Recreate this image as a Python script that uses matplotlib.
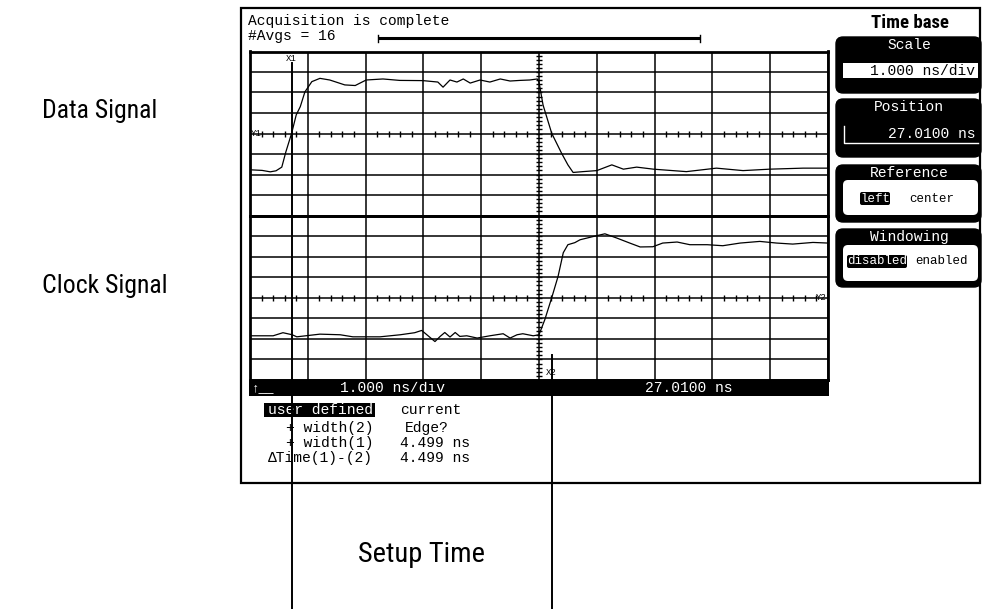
import numpy as np
import matplotlib
matplotlib.use("Agg")
import matplotlib.pyplot as plt
from matplotlib.patches import Rectangle, FancyBboxPatch
from matplotlib.transforms import blended_transform_factory

# time base: left reference at 27.01 ns, 1 ns/div, 10 x 8 divisions per channel
t_left = 27.01
ns_per_div = 1.0
n_div_x = 10
n_div_y = 8

# data signal (channel 1), time in ns, level in divisions from Y1 axis
data_t = [27.01, 27.22, 27.36, 27.46, 27.56, 27.63, 27.73, 27.81, 27.88, 27.96,
          28.08, 28.22, 28.39, 28.65, 28.83, 29.02, 29.31, 29.60, 30.00, 30.26,
          30.35, 30.47, 30.59, 30.70, 30.82, 30.99, 31.16, 31.34, 31.51, 31.68,
          31.85, 31.98, 32.01, 32.08, 32.23, 32.40, 32.51, 32.60, 32.77, 33.01,
          33.27, 33.47, 33.70, 33.99, 34.56, 35.08, 35.54, 36.00, 36.58, 37.01]
data_v = [-1.77, -1.80, -1.87, -1.82, -1.64, -0.90, 0.01, 0.91, 1.31, 2.03,
          2.53, 2.69, 2.61, 2.37, 2.34, 2.61, 2.66, 2.59, 2.58, 2.51,
          2.26, 2.61, 2.51, 2.66, 2.46, 2.61, 2.51, 2.66, 2.56, 2.59,
          2.61, 2.66, 2.51, 1.39, 0.01, -0.96, -1.53, -1.90, -1.86, -1.81,
          -1.53, -1.74, -1.64, -1.74, -1.86, -1.69, -1.81, -1.74, -1.69, -1.69]

# clock signal (channel 2)
clock_t = [27.01, 27.41, 27.58, 27.74, 27.82, 28.22, 28.57, 28.79, 29.26, 29.61,
           29.86, 29.98, 30.07, 30.21, 30.30, 30.38, 30.47, 30.56, 30.64, 30.76,
           30.94, 31.16, 31.39, 31.51, 31.63, 31.73, 31.91, 32.01, 32.11, 32.23,
           32.34, 32.43, 32.51, 32.63, 32.72, 33.01, 33.15, 33.35, 33.58, 33.76,
           33.98, 34.15, 34.40, 34.62, 34.92, 35.19, 35.49, 35.83, 36.12, 36.40,
           36.75, 37.01]
clock_v = [-1.85, -1.85, -1.70, -1.80, -1.90, -1.77, -1.80, -1.90, -1.90, -1.80,
           -1.70, -1.59, -1.80, -2.13, -1.88, -1.69, -1.91, -1.69, -1.88, -1.85,
           -1.96, -1.85, -1.75, -1.96, -1.80, -1.75, -1.85, -1.80, -1.07, 0.00,
           1.04, 2.19, 2.58, 2.68, 2.82, 3.02, 3.11, 2.91, 2.66, 2.47,
           2.48, 2.66, 2.71, 2.58, 2.58, 2.53, 2.66, 2.74, 2.66, 2.61,
           2.69, 2.66]

x1_time = 27.73
setup_time = 4.499
x2_time = x1_time + setup_time

header_lines = ["Acquisition is complete", "#Avgs = 16"]
meas_names = ["+ width(2)", "+ width(1)", "\u0394Time(1)-(2)"]
meas_values = ["Edge?", "4.499 ns", "4.499 ns"]

W, H = 987, 609
MONO = ["Liberation Mono", "DejaVu Sans Mono"]
NARROW = ["Roboto Condensed", "DejaVu Sans"]

fig = plt.figure(figsize=(W / 100, H / 100), dpi=100)
bg = fig.add_axes([0, 0, 1, 1])
bg.set_xlim(0, W)
bg.set_ylim(H, 0)
bg.axis("off")


def px_axes(x0, y0, x1, y1):
    return fig.add_axes([x0 / W, 1 - y1 / H, (x1 - x0) / W, (y1 - y0) / H])


def mono(x, y, s, color="k", size=10.5, ha="left"):
    bg.text(x, y, s, color=color, fontsize=size, family=MONO, ha=ha, va="center")


# outer screen frame
bg.add_patch(Rectangle((241, 8), 739, 475, fill=False, lw=1.6, ec="k"))

# header + progress bar
mono(248, 21, header_lines[0])
mono(248, 36, header_lines[1])
bg.plot([378, 700], [38, 38], color="k", lw=2.2, solid_capstyle="butt")
bg.plot([378, 378], [34.5, 41.5], color="k", lw=1)
bg.plot([700, 700], [34.5, 41.5], color="k", lw=1)

# side labels
bg.text(42, 111, "Data Signal", fontsize=18.5, family=NARROW, va="center")
bg.text(42, 286, "Clock Signal", fontsize=18.5, family=NARROW, va="center")
bg.text(421, 555, "Setup Time", fontsize=20.5, family=NARROW, va="center", ha="center")

# right hand softkey panels
bg.text(910, 23, "Time base", fontsize=13.5, fontweight="bold", family=NARROW,
        ha="center", va="center")
panels = [("Scale", 37, 93), ("Position", 99, 157), ("Reference", 165, 222),
          ("Windowing", 229, 287)]
for title, y0, y1 in panels:
    bg.add_patch(FancyBboxPatch((836, y0), 145, y1 - y0,
                                boxstyle="round,pad=0,rounding_size=7",
                                fc="k", ec="k"))
    mono(909, y0 + 8, title, color="w", ha="center")

bg.add_patch(Rectangle((843, 63), 135, 15, fc="w", ec="none"))
mono(975, 71, "1.000 ns/div", ha="right")
bg.plot([843.5, 843.5, 978], [126, 143, 143], color="w", lw=1)
mono(975, 134, "27.0100 ns", color="w", ha="right")

bg.add_patch(FancyBboxPatch((843, 180), 135, 35, boxstyle="round,pad=0,rounding_size=5",
                            fc="w", ec="none"))
bg.add_patch(FancyBboxPatch((860, 192), 30, 13, boxstyle="round,pad=0,rounding_size=2",
                            fc="k", ec="none"))
mono(875, 198.5, "left", color="w", size=9, ha="center")
mono(932, 198.5, "center", size=9, ha="center")

bg.add_patch(FancyBboxPatch((843, 245), 135, 36, boxstyle="round,pad=0,rounding_size=5",
                            fc="w", ec="none"))
bg.add_patch(FancyBboxPatch((847, 255), 60, 13, boxstyle="round,pad=0,rounding_size=2",
                            fc="k", ec="none"))
mono(877, 261.5, "disabled", color="w", size=9, ha="center")
mono(942, 261.5, "enabled", size=9, ha="center")

# status bar under the graticule
bg.add_patch(Rectangle((249, 380), 580, 16, fc="k", ec="none"))
mono(252, 388, "\u2191__", color="w", size=9)
mono(340, 388, "1.000 ns/div", color="w")
mono(645, 388, "27.0100 ns", color="w")

# measurement readout
bg.add_patch(Rectangle((264, 403), 111, 14, fc="k", ec="none"))
mono(373, 410, "user defined", color="w", ha="right")
mono(400, 410, "current")
for i, (name, val) in enumerate(zip(meas_names, meas_values)):
    y = 428 + 15 * i
    mono(373, y, name, ha="right")
    mono(405 if val == "Edge?" else 400, y, val)

# graticule: two channels
ax_top = px_axes(250, 51.5, 828, 215.5)
ax_low = px_axes(250, 215.5, 828, 380)
t_right = t_left + n_div_x * ns_per_div
t_mid = t_left + n_div_x * ns_per_div / 2
major_t = t_left + np.arange(n_div_x + 1) * ns_per_div
minor_t = t_left + np.arange(0, n_div_x * 5 + 1) * ns_per_div / 5
minor_t = minor_t[np.arange(len(minor_t)) % 5 != 0]
minor_v = np.arange(-n_div_y * 5 // 2, n_div_y * 5 // 2 + 1) / 5

for ax, t, v in [(ax_top, data_t, data_v), (ax_low, clock_t, clock_v)]:
    ax.set_xlim(t_left, t_right)
    ax.set_ylim(-n_div_y / 2, n_div_y / 2)
    ax.set_xticks(major_t)
    ax.set_yticks(np.arange(-n_div_y // 2, n_div_y // 2 + 1))
    ax.grid(True, color="k", lw=1.1)
    ax.tick_params(length=0, labelbottom=False, labelleft=False)
    for sp in ax.spines.values():
        sp.set_linewidth(2)
    ax.patch.set_alpha(0)
    ax.plot(minor_t, np.zeros_like(minor_t), ls="none", marker="|", ms=5, mew=1, color="k")
    ax.plot(np.full_like(minor_v, t_mid), minor_v, ls="none", marker="_", ms=5, mew=1,
            color="k")
    ax.plot(t, v, color="k", lw=0.9)

ax_top.text(t_left + 0.02, 0, "Y1", fontsize=6.5, family=MONO, va="center", ha="left")
ax_low.text(t_right - 0.03, 0, "Y2", fontsize=6.5, family=MONO, va="center", ha="right")
ax_low.text(x2_time, -3.65, "X2", fontsize=6.5, family=MONO, va="center", ha="center")

# cursors run from the screen down past the frame
blend = blended_transform_factory(ax_low.transData, bg.transData)
ax_low.text(x1_time, 58.5, "X1", transform=blend, fontsize=6.5, family=MONO,
            va="center", ha="center")
ax_low.plot([x1_time, x1_time], [63, H], transform=blend, clip_on=False, color="k",
            lw=1.4, zorder=5)
ax_low.plot([x2_time, x2_time], [355, H], transform=blend, clip_on=False, color="k",
            lw=1.4, zorder=5)

fig.savefig("out.png", dpi=100)
